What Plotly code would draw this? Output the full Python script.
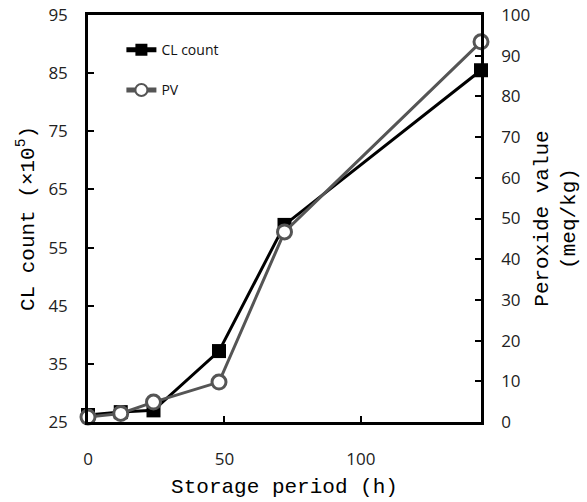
import plotly.graph_objects as go

hours = [0, 12, 24, 48, 72, 144]
cl_count = [26.2, 26.7, 27.0, 37.2, 58.9, 85.5]
pv = [1.2, 2.1, 4.9, 9.8, 46.7, 93.4]
x_ticks = [0, 50, 100]
y1_ticks = [25, 35, 45, 55, 65, 75, 85, 95]
y2_ticks = [0, 10, 20, 30, 40, 50, 60, 70, 80, 90, 100]

tick_font = dict(family="Open Sans", size=17, color="#222")
title_font = dict(family="Liberation Mono", size=21, color="black")

fig = go.Figure()
fig.add_trace(go.Scatter(
    x=hours, y=cl_count, name="CL count", mode="lines+markers",
    line=dict(color="black", width=3),
    marker=dict(symbol="square", size=14, color="black"),
    cliponaxis=False, legendgroup="a"))
fig.add_trace(go.Scatter(
    x=hours, y=pv, name="PV", mode="lines+markers", yaxis="y2",
    line=dict(color="#555555", width=3),
    marker=dict(symbol="circle", size=14, color="white", line=dict(color="#555555", width=3)),
    cliponaxis=False, legendgroup="b"))

fig.update_layout(
    width=587, height=502,
    margin=dict(l=88, r=106, t=15, b=80, autoexpand=False),
    plot_bgcolor="white", paper_bgcolor="white",
    showlegend=True,
    legend=dict(x=0.085, y=0.953, xanchor="left", yanchor="top",
                font=dict(family="Open Sans", size=14, color="#111"),
                itemwidth=30, tracegroupgap=19, traceorder="grouped",
                itemsizing="constant",
                bgcolor="rgba(0,0,0,0)"),
    xaxis=dict(range=[0, 144], tickvals=x_ticks, ticks="inside", ticklen=6, tickwidth=2,
               tickcolor="black", showline=True, linecolor="black", linewidth=2.5,
               mirror=True, showgrid=False, zeroline=False, tickfont=tick_font,
               ticklabelstandoff=20, automargin=False,
               title=dict(text="Storage period (h)", font=title_font, standoff=10)),
    yaxis=dict(range=[25, 95], tickvals=y1_ticks, ticks="inside", ticklen=6, tickwidth=2,
               tickcolor="black", showline=True, linecolor="black", linewidth=2.5,
               showgrid=False, zeroline=False, tickfont=tick_font, ticklabelstandoff=14,
               automargin=False,
               title=dict(text="CL count (×10<sup>5</sup>)", font=title_font, standoff=9)),
    yaxis2=dict(range=[0, 100], tickvals=y2_ticks, ticks="inside", ticklen=6, tickwidth=2,
                tickcolor="black", showline=True, linecolor="black", linewidth=2.5,
                overlaying="y", side="right", showgrid=False, zeroline=False,
                tickfont=tick_font, ticklabelstandoff=14, automargin=False,
                title=dict(text="Peroxide value<br>(meq/kg)", font=title_font, standoff=4)),
)

fig.write_html("out.html")
